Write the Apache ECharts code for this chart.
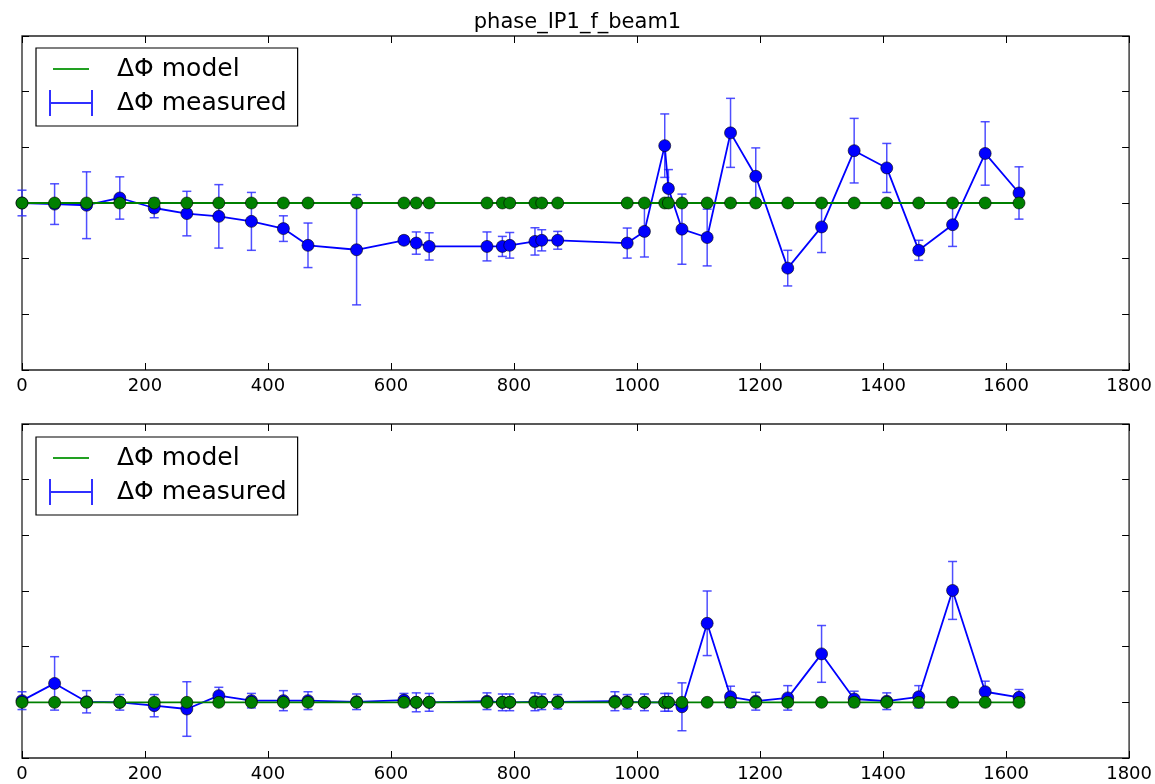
<!DOCTYPE html>
<html>
<head>
<meta charset="utf-8">
<script src="https://cdn.jsdelivr.net/npm/echarts@6/dist/echarts.min.js"></script>
<style>
html,body{margin:0;padding:0;background:#fff;}
#chart{width:1155px;height:784px;}
</style>
</head>
<body>
<div id="chart"></div>
<script>
// ---- data ----
const chartTitle = 'phase_IP1_f_beam1';
const xTickLabels = ['0','200','400','600','800','1000','1200','1400','1600','1800'];

// upper panel
const sTop = [0, 53, 105, 159, 215, 268, 320, 373, 425, 465, 544, 621, 641, 662, 756, 781, 793, 834, 845, 871, 984, 1012, 1045, 1051, 1073, 1114, 1152, 1193, 1245, 1300, 1353, 1406, 1458, 1513, 1566, 1621];
const measTop = [0, -0.02, -0.04, 0.09, -0.09, -0.19, -0.24, -0.33, -0.46, -0.76, -0.84, -0.67, -0.72, -0.78, -0.78, -0.78, -0.76, -0.69, -0.67, -0.67, -0.72, -0.51, 1.03, 0.26, -0.47, -0.62, 1.26, 0.48, -1.17, -0.43, 0.94, 0.63, -0.85, -0.39, 0.89, 0.18];
const errTop = [0.23, 0.365, 0.60, 0.38, 0.175, 0.40, 0.57, 0.52, 0.23, 0.40, 0.99, 0.07, 0.20, 0.245, 0.26, 0.18, 0.23, 0.245, 0.19, 0.16, 0.27, 0.46, 0.57, 0.34, 0.63, 0.51, 0.62, 0.51, 0.32, 0.46, 0.58, 0.44, 0.18, 0.39, 0.57, 0.47];
const modelTop = [0, 0, 0, 0, 0, 0, 0, 0, 0, 0, 0, 0, 0, 0, 0, 0, 0, 0, 0, 0, 0, 0, 0, 0, 0, 0, 0, 0, 0, 0, 0, 0, 0, 0, 0, 0];

// lower panel
const sBot = [0, 53, 105, 159, 215, 268, 320, 373, 425, 465, 544, 621, 641, 662, 756, 781, 793, 834, 845, 871, 964, 984, 1012, 1045, 1051, 1073, 1114, 1152, 1193, 1245, 1300, 1353, 1406, 1458, 1513, 1566, 1621];
const measBot = [0.03, 0.34, 0.01, 0, -0.06, -0.12, 0.12, 0.03, 0.03, 0.03, 0.01, 0.04, 0, 0, 0.02, 0, 0, 0.01, 0.01, 0.01, 0.02, 0.01, 0, 0, 0, -0.08, 1.42, 0.10, 0.02, 0.08, 0.87, 0.06, 0.02, 0.10, 2.01, 0.19, 0.09];
const errBot = [0.16, 0.48, 0.20, 0.14, 0.20, 0.49, 0.15, 0.13, 0.18, 0.16, 0.14, 0.12, 0.17, 0.16, 0.15, 0.15, 0.15, 0.16, 0.14, 0.13, 0.17, 0.13, 0.15, 0.16, 0.16, 0.43, 0.58, 0.19, 0.16, 0.22, 0.51, 0.14, 0.15, 0.20, 0.52, 0.19, 0.14];
const modelBot = [0, 0, 0, 0, 0, 0, 0, 0, 0, 0, 0, 0, 0, 0, 0, 0, 0, 0, 0, 0, 0, 0, 0, 0, 0, 0, 0, 0, 0, 0, 0, 0, 0, 0, 0, 0, 0];

const NAME_MODEL = '\u0394\u03A6 model';
const NAME_MEAS = '\u0394\u03A6 measured';

// ---- chart ----
const FONT = 'DejaVu Sans';
const chart = echarts.init(document.getElementById('chart'), null, {renderer: 'canvas'});

const tickStyle = {show: true, inside: true, length: 7, lineStyle: {color: '#000', width: 1}};

function xAxisPair(gridIndex) {
  const base = {
    type: 'value', gridIndex: gridIndex, min: 0, max: 1800, interval: 200,
    splitLine: {show: false},
    axisLine: {show: false, onZero: false}
  };
  return [
    Object.assign({}, base, {
      position: 'bottom',
      axisTick: tickStyle,
      axisLabel: {show: true, margin: 7, color: '#000', fontSize: 18, fontFamily: FONT,
        formatter: function (v) { const i = Math.round(v / 200); return xTickLabels[i] !== undefined ? xTickLabels[i] : ''; }}
    }),
    Object.assign({}, base, {
      position: 'top',
      axisTick: tickStyle,
      axisLabel: {show: false}
    })
  ];
}
function yAxisPair(gridIndex, mn, mx) {
  const base = {
    type: 'value', gridIndex: gridIndex, min: mn, max: mx, interval: 1,
    splitLine: {show: false}, axisLine: {show: false, onZero: false}, axisLabel: {show: false},
    axisTick: tickStyle
  };
  return [
    Object.assign({}, base, {position: 'left'}),
    Object.assign({}, base, {position: 'right'})
  ];
}

function renderErr(params, api) {
  const x = api.value(0), y = api.value(1), e = api.value(2);
  const lo = api.coord([x, y - e]);
  const hi = api.coord([x, y + e]);
  const hw = 4.5;
  const style = {stroke: '#3030ff', lineWidth: 1.5, opacity: 0.85};
  return {
    type: 'group',
    children: [
      {type: 'line', shape: {x1: lo[0], y1: lo[1], x2: hi[0], y2: hi[1]}, style: style},
      {type: 'line', shape: {x1: lo[0] - hw, y1: lo[1], x2: lo[0] + hw, y2: lo[1]}, style: style},
      {type: 'line', shape: {x1: hi[0] - hw, y1: hi[1], x2: hi[0] + hw, y2: hi[1]}, style: style}
    ]
  };
}

function panelSeries(xi, yi, sArr, meas, err, model) {
  return [
    {
      name: NAME_MEAS, type: 'custom', xAxisIndex: xi, yAxisIndex: yi,
      renderItem: renderErr, clip: false,
      encode: {x: 0, y: 1},
      itemStyle: {color: '#0000ff'},
      data: sArr.map(function (s, i) { return [s, meas[i], err[i]]; }),
      z: 2
    },
    {
      name: NAME_MEAS, type: 'line', xAxisIndex: xi, yAxisIndex: yi,
      symbol: 'circle', symbolSize: 12, showSymbol: true,
      lineStyle: {color: '#0000ff', width: 1.8},
      itemStyle: {color: '#0000ff', borderColor: 'rgba(0,0,0,0.75)', borderWidth: 0.8},
      data: sArr.map(function (s, i) { return [s, meas[i]]; }),
      z: 3
    },
    {
      name: NAME_MODEL, type: 'line', xAxisIndex: xi, yAxisIndex: yi,
      symbol: 'circle', symbolSize: 12, showSymbol: true,
      lineStyle: {color: '#008000', width: 1.8},
      itemStyle: {color: '#008000', borderColor: 'rgba(0,0,0,0.75)', borderWidth: 0.8},
      data: sArr.map(function (s, i) { return [s, model[i]]; }),
      z: 4
    }
  ];
}

const iconModel = 'path://M0,0 L0.01,0 L0,0.01 Z M44,26 L43.99,26 L44,25.99 Z M4,12 L40,12 L40,14 L4,14 Z';
const iconMeas = 'path://M0,0 L2,0 L2,26 L0,26 Z M0,12 L44,12 L44,14 L0,14 Z M42,0 L44,0 L44,26 L42,26 Z';

function makeLegend(top) {
  return {
    orient: 'vertical', left: 36, top: top,
    padding: [7, 11, 9, 13],
    itemGap: 6, itemWidth: 44, itemHeight: 26,
    backgroundColor: '#fff', borderColor: '#000', borderWidth: 1.2, borderRadius: 0,
    itemStyle: {borderWidth: 0},
    textStyle: {fontSize: 25, fontFamily: FONT, color: '#000', lineHeight: 28, padding: [0, 0, 0, 19]},
    selectedMode: false,
    data: [
      {name: NAME_MODEL, icon: iconModel, itemStyle: {color: '#22a022', borderWidth: 0}},
      {name: NAME_MEAS, icon: iconMeas, itemStyle: {color: '#3030ff', borderWidth: 0}}
    ]
  };
}

const option = {
  animation: false,
  backgroundColor: '#fff',
  title: {
    text: chartTitle, left: 'center', top: 7,
    textStyle: {fontSize: 21, fontWeight: 'normal', fontFamily: FONT, color: '#000'}
  },
  legend: [makeLegend(48), makeLegend(437)],
  grid: [
    {left: 22, right: 22, top: 36, height: 334, show: true, borderColor: '#222', borderWidth: 1.3, backgroundColor: 'transparent'},
    {left: 22, right: 22, top: 424, height: 334, show: true, borderColor: '#222', borderWidth: 1.3, backgroundColor: 'transparent'}
  ],
  xAxis: xAxisPair(0).concat(xAxisPair(1)),
  yAxis: yAxisPair(0, -3, 3).concat(yAxisPair(1, -1, 5)),
  series: panelSeries(0, 0, sTop, measTop, errTop, modelTop)
    .concat(panelSeries(2, 2, sBot, measBot, errBot, modelBot))
};

chart.setOption(option);
</script>
</body>
</html>
